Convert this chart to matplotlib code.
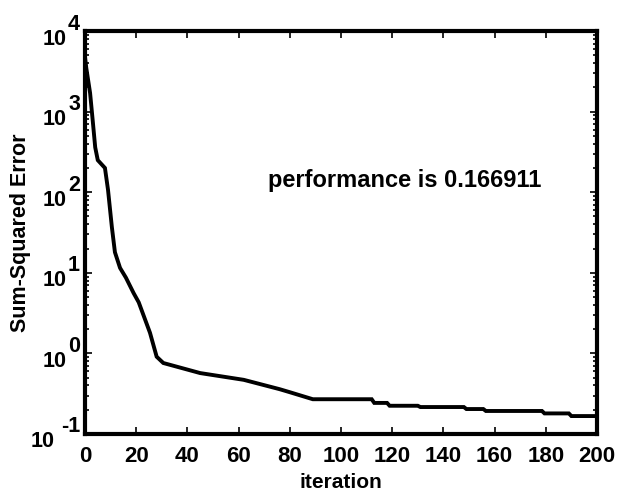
import matplotlib

matplotlib.use("Agg")
import matplotlib.pyplot as plt
import numpy as np

# Training error history
iteration = [0, 0.5, 2, 3, 4, 5, 7.8, 9, 10.5, 11.7, 13.7, 16, 19, 21, 25.4,
             28, 30.6, 45, 62, 76, 80, 89, 112, 113, 118, 119, 130, 131, 148,
             149, 155.6, 156.6, 178.5, 179.5, 189, 190, 200]
sse = [4800, 3500, 1700, 790, 360, 250, 200, 107, 37, 18, 11.5, 8.7, 5.6, 4.3,
       1.8, 0.91, 0.76, 0.57, 0.47, 0.36, 0.33, 0.27, 0.27, 0.243, 0.243,
       0.224, 0.224, 0.216, 0.216, 0.204, 0.204, 0.193, 0.193, 0.18, 0.18,
       0.166911, 0.166911]
performance = 0.166911

xticks = list(range(0, 201, 20))
yexp = [4, 3, 2, 1, 0, -1]

plt.rcParams["font.family"] = ["Liberation Sans", "DejaVu Sans"]
plt.rcParams["font.weight"] = "bold"

fig = plt.figure(figsize=(6.18, 4.93), dpi=100)
ax = fig.add_axes([0.1375, 0.1197, 0.966 - 0.1375, 0.937 - 0.1197])

ax.semilogy(iteration, sse, color="black", lw=2.8, solid_joinstyle="miter")

ax.set_xlim(0, 200)
ax.set_ylim(1e-1, 1e4)
ax.set_xticks(xticks)
ax.set_xticklabels([str(t) for t in xticks], fontsize=16, fontweight="bold")
ax.set_yticks([10.0 ** e for e in yexp])
ax.set_yticklabels([])

for s in ax.spines.values():
    s.set_linewidth(3)

ax.tick_params(which="both", direction="in", top=True, right=True, width=1.2)
ax.tick_params(which="major", length=5, pad=9)
ax.tick_params(which="minor", length=3)
ax.tick_params(axis="x", which="minor", bottom=False, top=False)

# y tick labels as "10" with a full-size raised exponent
for e in yexp:
    ex = str(e)
    ax.annotate(ex, xy=(0, 10.0 ** e), xycoords=("axes fraction", "data"),
                xytext=(-5, 7), textcoords="offset pixels", ha="right",
                va="center", fontsize=15.5, fontweight="bold")
    ax.annotate("10", xy=(0, 10.0 ** e), xycoords=("axes fraction", "data"),
                xytext=(-6 - 12 * len(ex), -8), textcoords="offset pixels",
                ha="right", va="center", fontsize=15.5, fontweight="bold")

ax.set_xlabel("iteration", fontsize=15, fontweight="bold")
ax.xaxis.set_label_coords(0.5, -0.098)
ax.set_ylabel("Sum-Squared Error", fontsize=15.5, fontweight="bold")
ax.yaxis.set_label_coords(-0.106, 0.5)

ax.text(0.357, 0.613, f"performance is {performance}", transform=ax.transAxes,
        fontsize=17, fontweight="bold", va="baseline", ha="left")

fig.savefig("out.png", dpi=100)
